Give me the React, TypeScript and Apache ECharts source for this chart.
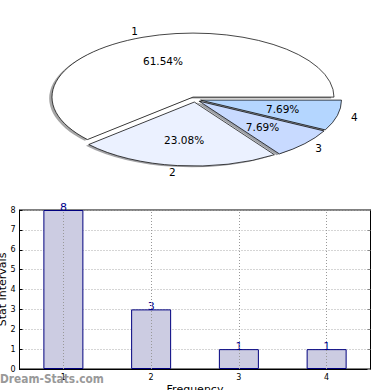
import React, { useEffect, useRef } from 'react';
import * as echarts from 'echarts';

const pieLabels = ['1', '2', '3', '4'];
const pieValues = [8, 3, 1, 1];
const pieColors = [[255, 255, 255], [235, 241, 255], [200, 218, 255], [180, 214, 255]];
const categories = ['1', '2', '3', '4'];
const barValues = [8, 3, 1, 1];

const PIE_CX = 195;
const PIE_CY = 99.5;
const RX = 141;
const RY = 64;
const EXPLODE = 0.04;
const FONT = 'DejaVu Sans';

const total = pieValues.reduce((a, b) => a + b, 0);

function geom(i: number) {
  let start = 0;
  for (let j = 0; j < i; j++) start += pieValues[j];
  const a1 = (start / total) * Math.PI * 2;
  const a2 = ((start + pieValues[i]) / total) * Math.PI * 2;
  const mid = (a1 + a2) / 2;
  const ox = PIE_CX + EXPLODE * RX * Math.cos(mid);
  const oy = PIE_CY - EXPLODE * RY * Math.sin(mid);
  return { a1, a2, mid, ox, oy };
}

function rgb(c: number[], f = 1, a = 1) {
  return `rgba(${Math.round(c[0] * f)},${Math.round(c[1] * f)},${Math.round(c[2] * f)},${a})`;
}

export default function App() {
  const ref = useRef<HTMLDivElement>(null);
  useEffect(() => {
    if (!ref.current) return;
    const chart = echarts.init(ref.current, undefined, { renderer: 'svg' });
    const option: any = {
      animation: false,
      backgroundColor: '#fff',
      textStyle: { fontFamily: FONT },
      grid: {
        left: 19.5, right: 19.5, top: 210, bottom: 21,
        containLabel: false,
        outerBoundsMode: 'none',
        show: true, borderColor: '#000', borderWidth: 1, backgroundColor: 'transparent',
      },
      xAxis: {
        type: 'category',
        data: categories,
        axisLine: { lineStyle: { color: '#000', width: 1 } },
        axisTick: { show: true, inside: true, alignWithLabel: true, length: 3, lineStyle: { color: '#000' } },
        axisLabel: { fontSize: 8, color: '#000', margin: 4, fontFamily: FONT },
        splitLine: { show: false },
        name: 'Frequency',
        nameLocation: 'middle',
        nameGap: 15,
        nameMoveOverlap: false,
        nameTextStyle: { fontSize: 11, color: '#000', fontFamily: FONT },
      },
      yAxis: [
        {
          type: 'value', min: 0, max: 8, interval: 1,
          axisLine: { show: true, lineStyle: { color: '#000', width: 1 } },
          axisTick: { show: true, inside: true, length: 3, lineStyle: { color: '#000' } },
          axisLabel: { fontSize: 8, color: '#000', margin: 4, fontFamily: FONT },
          splitLine: { show: true, lineStyle: { color: '#aaa', type: [1, 2], width: 1 } },
          name: 'Stat Intervals',
          nameLocation: 'middle',
          nameGap: 12,
          nameRotate: 90,
          nameMoveOverlap: false,
          nameTextStyle: { fontSize: 11, color: '#000', fontFamily: FONT },
        },
        {
          type: 'value', min: 0, max: 8, interval: 1, position: 'right',
          axisLine: { show: true, lineStyle: { color: '#000', width: 1 } },
          axisTick: { show: true, inside: true, length: 3, lineStyle: { color: '#888' } },
          axisLabel: { show: false },
          splitLine: { show: false },
        },
      ],
      graphic: [
        {
          type: 'text', left: 0, top: 372.5, z: 100,
          style: { text: 'Dream-Stats.com', fill: '#999', fontSize: 11.8, fontFamily: 'DejaVu Sans Condensed', fontWeight: 'bold' },
        },
      ],
      series: [
        {
          type: 'custom',
          coordinateSystem: 'none',
          z: 1,
          data: pieValues,
          renderItem: (params: any) => {
            const i = params.dataIndex;
            const g = geom(i);
            return {
              type: 'sector',
              x: g.ox - 0.02 * RX,
              y: g.oy + 0.02 * RY,
              scaleY: RY / RX,
              shape: { cx: 0, cy: 0, r: RX, r0: 0, startAngle: -g.a1, endAngle: -g.a2, clockwise: false },
              style: { fill: rgb(pieColors[i], 0.3, 0.5), stroke: 'none' },
            };
          },
        },
        {
          type: 'custom',
          coordinateSystem: 'none',
          z: 2,
          data: pieValues,
          renderItem: (params: any) => {
            const i = params.dataIndex;
            const g = geom(i);
            const c = Math.cos(g.mid);
            const s = Math.sin(g.mid);
            const lx = g.ox + 1.1 * RX * c;
            const ly = g.oy - 1.1 * RY * s;
            const px = g.ox + 0.6 * RX * c;
            const py = g.oy - 0.6 * RY * s;
            const pct = ((pieValues[i] / total) * 100).toFixed(2) + '%';
            return {
              type: 'group',
              children: [
                {
                  type: 'sector',
                  x: g.ox,
                  y: g.oy,
                  scaleY: RY / RX,
                  shape: { cx: 0, cy: 0, r: RX, r0: 0, startAngle: -g.a1, endAngle: -g.a2, clockwise: false },
                  style: { fill: rgb(pieColors[i]), stroke: '#000', lineWidth: 1, strokeNoScale: true },
                },
                {
                  type: 'text',
                  x: lx, y: ly,
                  style: {
                    text: pieLabels[i], fill: '#000', fontSize: 10.5, fontFamily: FONT,
                    align: c < 0 ? 'right' : 'left', verticalAlign: 'middle',
                    textAlign: c < 0 ? 'right' : 'left', textVerticalAlign: 'middle',
                  },
                },
                {
                  type: 'text',
                  x: px, y: py,
                  style: {
                    text: pct, fill: '#000', fontSize: 10.5, fontFamily: FONT,
                    align: 'center', verticalAlign: 'middle',
                    textAlign: 'center', textVerticalAlign: 'middle',
                  },
                },
              ],
            };
          },
        },
        {
          type: 'bar',
          data: barValues,
          barWidth: 40,
          itemStyle: { color: '#CCCCE2', borderColor: '#00007F', borderWidth: 1 },
          label: {
            show: true, position: 'top', distance: 0, offset: [0, 2.5],
            color: '#00008B', fontSize: 11, fontFamily: FONT,
          },
          markLine: {
            silent: true,
            symbol: 'none',
            label: { show: false },
            lineStyle: { color: '#999', type: [1, 2], width: 1 },
            data: categories.map((c) => ({ xAxis: c })),
          },
        },
      ],
    };
    chart.setOption(option);
    return () => chart.dispose();
  }, []);
  return <div ref={ref} style={{ width: 390, height: 390, position: 'absolute', left: 0, top: 0 }} />;
}
